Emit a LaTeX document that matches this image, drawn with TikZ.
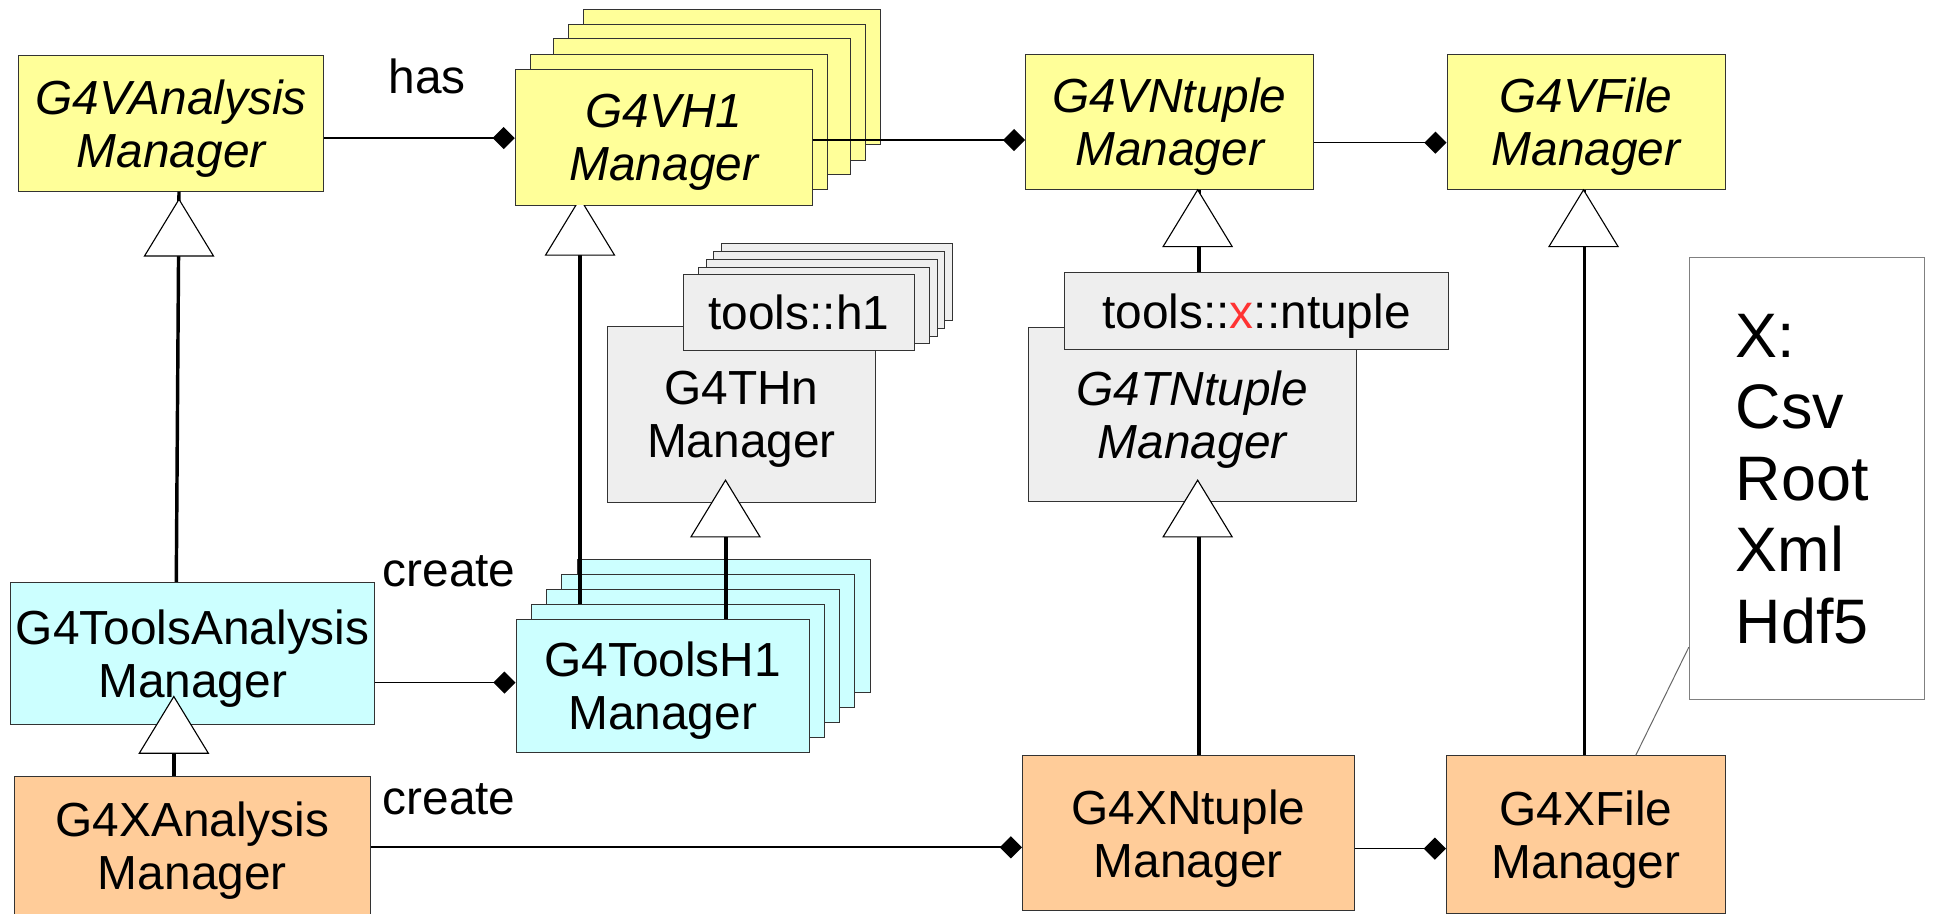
\documentclass[tikz,border=0pt]{standalone}
\usepackage{fontspec}
\setmainfont{Liberation Sans}
\usetikzlibrary{arrows.meta}
\definecolor{cyel}{HTML}{FFFF99}
\definecolor{cgray}{HTML}{EEEEEE}
\definecolor{ccyan}{HTML}{CCFFFF}
\definecolor{corange}{HTML}{FFCC99}
\definecolor{cred}{RGB}{255,51,51}
\newcommand{\boxfont}{\fontsize{38.8}{43}\selectfont}
\newcommand{\notefont}{\fontsize{51}{58}\selectfont}
\begin{document}
\begin{tikzpicture}[x=1pt,y=-1pt,
  box/.style={draw=black!80, line width=0.8pt, inner sep=0pt, align=center, font=\boxfont, text depth=0pt},
  abstr/.style={font=\boxfont\itshape},
  yelbox/.style={box, fill=cyel},
  graybox/.style={box, fill=cgray},
  cyanbox/.style={box, fill=ccyan},
  orbox/.style={box, fill=corange},
  backyel/.style={draw=black!80, line width=0.8pt, fill=cyel},
  backgray/.style={draw=black!80, line width=0.8pt, fill=cgray},
  backcyan/.style={draw=black!80, line width=0.8pt, fill=ccyan},
  notebox/.style={draw=black!50, line width=0.8pt, fill=white, inner sep=0pt, align=left, font=\notefont, text depth=0pt},
  inh/.style={line width=2.8pt},
  tri/.style={draw=black, line width=0.9pt, fill=white, line join=miter},
  agg/.style={line width=1.2pt, -{Diamond[length=18pt,width=18pt]}},
  aggthick/.style={line width=1.7pt, -{Diamond[length=18pt,width=18pt]}},
  noteline/.style={draw=black!60, line width=0.8pt},
  lbl/.style={font=\boxfont, inner sep=0pt, anchor=base},
  inhtri/.pic={\draw[tri] (0,0) -- (28,46) -- (-28,46) -- cycle;}
]
\useasboundingbox[fill=white] (0,0) rectangle (1568,741);

% top row
\node[yelbox, abstr, minimum width=247.9pt, minimum height=109.8pt] (va) at (138.85,100.1) {G4VAnalysis\\Manager};

\filldraw[backyel] (473.2,7.3) rectangle (714.1,117.6);
\filldraw[backyel] (461,19.5) rectangle (701.9,129.8);
\filldraw[backyel] (448.8,31.6) rectangle (689.7,141.9);
\filldraw[backyel] (430.5,43.8) rectangle (671.4,154.1);
\node[yelbox, abstr, minimum width=240.9pt, minimum height=110.3pt] (vh1) at (538.45,111.15) {G4VH1\\Manager};

\node[yelbox, abstr, minimum width=233.5pt, minimum height=109.8pt] (vnt) at (948.75,98.7) {G4VNtuple\\Manager};
\node[yelbox, abstr, minimum width=225.5pt, minimum height=109.8pt] (vf) at (1286.55,98.7) {G4VFile\\Manager};

% middle row
\node[graybox, minimum width=217.1pt, minimum height=142.5pt] (thn) at (601.45,336.25) {G4THn\\Manager};
\filldraw[backgray] (584.9,197.9) rectangle (772.3,260.1);
\filldraw[backgray] (578.9,204.2) rectangle (766.3,266.4);
\filldraw[backgray] (572.7,210.4) rectangle (760.1,272.6);
\filldraw[backgray] (566.7,216.6) rectangle (754.1,278.8);
\node[graybox, minimum width=187.4pt, minimum height=62.2pt] (th1) at (648,253.6) {tools::h1};

\node[graybox, abstr, minimum width=265.8pt, minimum height=140.6pt] (tnt) at (967.1,336.3) {G4TNtuple\\Manager};
\node[graybox, minimum width=311.9pt, minimum height=62.6pt] (txn) at (1019.25,252.2) {tools::\textcolor{cred}{x}::ntuple};

\node[notebox, minimum width=190.7pt, minimum height=358.5pt] (note) at (1465.65,388.25) {X:\\Csv\\\makebox[115pt][l]{Root}\\Xml\\Hdf5};

% tools row
\node[cyanbox, minimum width=295.7pt, minimum height=114.9pt] (ta) at (156.25,529.85) {G4ToolsAnalysis\\Manager};
\filldraw[backcyan] (468.3,453.7) rectangle (706.2,561.8);
\filldraw[backcyan] (455.6,465.9) rectangle (693.5,574);
\filldraw[backcyan] (443.4,478) rectangle (681.3,586.1);
\filldraw[backcyan] (431.3,490.2) rectangle (669.2,598.3);
\coordinate (th1back) at (470.5,490.2);
\node[cyanbox, minimum width=237.9pt, minimum height=108.1pt] (tH1) at (537.55,556.45) {G4ToolsH1\\Manager};

% bottom row
\node[orbox, minimum width=288.7pt, minimum height=112.4pt] (xa) at (156.05,686.2) {G4XAnalysis\\Manager};
\node[orbox, minimum width=269.1pt, minimum height=125.5pt] (xnt) at (963.95,675.95) {G4XNtuple\\Manager};
\node[orbox, minimum width=226.4pt, minimum height=127.8pt] (xf) at (1286.5,677.1) {G4XFile\\Manager};

% labels
\node[lbl] (has) at (346.35,75.7) {has};
\node[lbl] (cr1) at (364.3,476) {create};
\node[lbl] (cr2) at (364.3,660.3) {create};

% aggregation connectors
\draw[aggthick] (va.east |- 0,112) -- (vh1.west |- 0,112);
\draw[agg] (vh1.east |- 0,113.6) -- (vnt.west |- 0,113.6);
\draw[agg] (vnt.east |- 0,115.7) -- (vf.west |- 0,115.7);
\draw[agg] (ta.east |- 0,553.7) -- (tH1.west |- 0,553.7);
\draw[aggthick] (xa.east |- 0,687.3) -- (xnt.west |- 0,687.3);
\draw[agg] (xnt.east |- 0,688.4) -- (xf.west |- 0,688.4);

% note link
\draw[noteline] (note.west |- 0,525) -- (xf.north -| 1326.8,0);

% inheritance connectors
\draw[inh] (ta.north -| 143,0) -- (va.south -| 145.2,0);
\draw[inh] (th1back) -- (vh1.south -| th1back);
\draw[inh] (tH1.north -| 589,0) -- (thn.south -| 589,0);
\draw[inh] (xa.north -| 141.3,0) -- (ta.south -| 141.3,0);
\draw[inh] (xnt.north -| 972.5,0) -- (tnt.south -| 972.5,0);
\draw[inh] (txn.north -| 972.5,0) -- (vnt.south -| 972.5,0);
\draw[inh] (xf.north -| 1285.3,0) -- (vf.south -| 1285.3,0);

% inheritance triangles
\pic at (145.2,161.7) {inhtri};
\begin{scope}
  \clip (400,166.7) rectangle (540,230);
  \pic at (470.5,161) {inhtri};
\end{scope}
\pic at (588.5,389.5) {inhtri};
\pic at (141,565) {inhtri};
\pic at (971.5,389.5) {inhtri};
\pic at (971.5,154) {inhtri};
\pic at (1284.5,154) {inhtri};
\end{tikzpicture}
\end{document}
